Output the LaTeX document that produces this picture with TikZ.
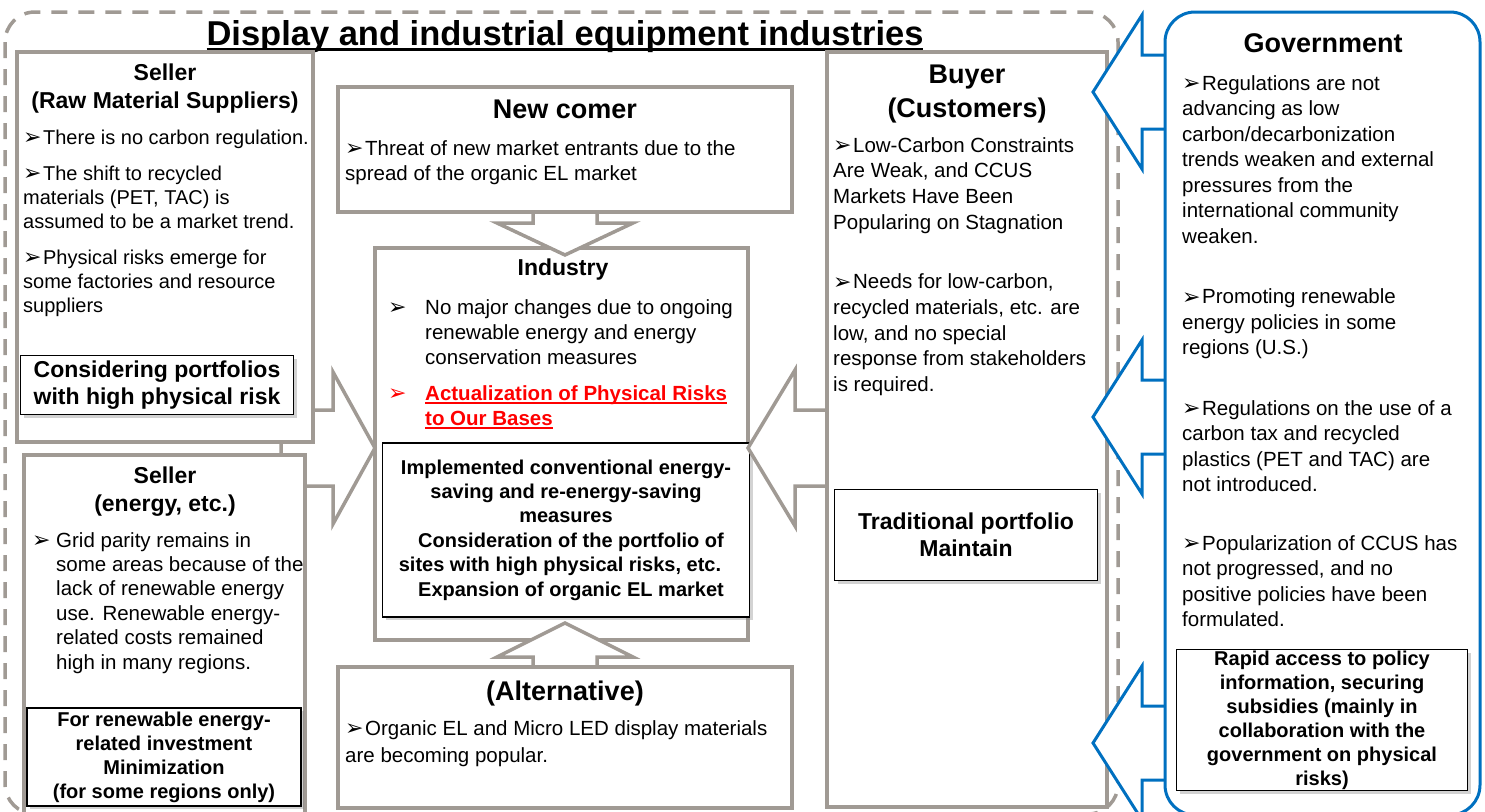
\documentclass[tikz,border=0pt]{standalone}
\usepackage{fontspec}
\setmainfont{Liberation Sans}
\newfontfamily\dejavu{DejaVu Sans}
\usetikzlibrary{calc,shadows}

\definecolor{boxgray}{RGB}{160,154,148}
\definecolor{govblue}{RGB}{0,112,192}
\definecolor{riskred}{RGB}{255,0,0}

\newcommand{\fs}[2]{\fontsize{#1}{#2}\selectfont}
\newcommand{\bul}{\raisebox{-0.5pt}{\dejavu\fontsize{22}{22}\selectfont ➢}\kern1.5pt}
% #1 rule thickness, #2 drop below baseline, #3 text
\newcommand{\ulined}[3]{\leavevmode\setbox0=\hbox{#3}\rlap{\vrule width\wd0 height\dimexpr#1-#2\relax depth#2}\box0}
% stacked lines, baseline at the first line
\newcommand{\lines}[2][l]{\begin{tabular}[t]{@{}#1@{}}#2\end{tabular}}

\begin{document}
\begin{tikzpicture}[x=1pt,y=-1pt,
  panel/.style={draw=boxgray, line width=3.5pt, fill=white},
  blockarr/.style={draw=boxgray, line width=3.5pt, fill=white, line join=miter},
  govarr/.style={draw=govblue, line width=3pt, fill=white, line join=miter},
  heading/.style={anchor=base, inner sep=0pt, font=\bfseries\fs{23}{28}},
  bigheading/.style={heading, font=\bfseries\fs{27}{34}},
  body/.style={anchor=base west, inner sep=0pt, font=\fs{20.5}{25}},
  keybox/.style={draw=black, line width=1.6pt, fill=white, align=center, inner sep=0pt,
    font=\bfseries\fs{20}{24.4}, drop shadow={shadow xshift=3pt, shadow yshift=-3pt, opacity=0.35}}]
  \useasboundingbox (0,0) rectangle (1485,811);

  % Outer dashed frame
  \draw[boxgray, line width=3.5pt, dash pattern=on 16pt off 11pt, rounded corners=30pt] (5,12) rectangle (1118,814);

  % Title
  \node[anchor=base, inner sep=0pt, font=\bfseries\fs{34.5}{40}] (title) at (565,45)
    {\ulined{2.5pt}{5.5pt}{Display and industrial equipment industries}};

  % Industry (centre)
  \draw[panel] (375,248) rectangle (748,640);
  \node[heading] (indhead) at (563,275) {Industry};
  \node[body] (indtext) at (388,314) {\lines{%
    \makebox[37pt][l]{\bul}No major changes due to ongoing\\
    \hspace*{37pt}renewable energy and energy\\
    \hspace*{37pt}conservation measures\\[11pt]
    \color{riskred}\bfseries\makebox[37pt][l]{\mdseries\bul}\ulined{1.6pt}{3.5pt}{Actualization of Physical Risks}\\
    \color{riskred}\bfseries\hspace*{37pt}\ulined{1.6pt}{3.5pt}{to Our Bases}}};
  \node[keybox, minimum width=367pt, minimum height=174pt] (indbox) at (566,530) {%
    Implemented conventional energy-\\
    saving and re-energy-saving\\
    measures\\
    \hspace*{10pt}Consideration of the portfolio of\\
    \hspace*{-12pt}sites with high physical risks, etc.\\
    \hspace*{10pt}Expansion of organic EL market};

  % Block arrows into Industry
  \coordinate (tipW) at (375,448);
  \coordinate (tipE) at (748,448);
  \coordinate (tipN) at (565,255);
  \coordinate (tipS) at (565,623);
  \draw[blockarr] (tipW) -- ++(-42,-76) -- ++(0,38) -- ++(-52,0) -- ++(0,76) -- ++(52,0) -- ++(0,38) -- cycle;
  \draw[blockarr] (tipE) -- ++(47,-78) -- ++(0,40) -- ++(60,0) -- ++(0,76) -- ++(-60,0) -- ++(0,40) -- cycle;
  \draw[blockarr] (tipN) -- ++(-68,-32) -- ++(36,0) -- ++(0,-20) -- ++(64,0) -- ++(0,20) -- ++(36,0) -- cycle;
  \draw[blockarr] (tipS) -- ++(-68,34) -- ++(36,0) -- ++(0,20) -- ++(64,0) -- ++(0,-20) -- ++(36,0) -- cycle;

  % Seller (raw material)
  \draw[panel] (17,52) rectangle (313,442);
  \node[heading] (s1head) at (165,80) {\lines[c]{Seller\\(Raw Material Suppliers)}};
  \node[body, font=\fs{20}{24}] (s1text) at (23,144) {\lines{%
    \bul There is no carbon regulation.\\[12pt]
    \bul The shift to recycled\\
    materials (PET, TAC) is\\
    assumed to be a market trend.\\[12pt]
    \bul Physical risks emerge for\\
    some factories and resource\\
    suppliers}};
  \node[keybox, font=\bfseries\fs{23}{27}, minimum width=273pt, minimum height=59pt] (s1port) at (157,385)
    {Considering portfolios\\with high physical risk};

  % Seller (energy)
  \draw[panel] (24,455) rectangle (305,815);
  \node[heading] (s2head) at (165,483) {\lines[c]{Seller\\(energy, etc.)}};
  \node[body, font=\fs{20.5}{24.4}] (s2text) at (32,547) {\lines{%
    \makebox[24pt][l]{\bul}Grid parity remains in\\
    \hspace*{24pt}some areas because of the\\
    \hspace*{24pt}lack of renewable energy\\
    \hspace*{24pt}use. Renewable energy-\\
    \hspace*{24pt}related costs remained\\
    \hspace*{24pt}high in many regions.}};
  \node[keybox, font=\bfseries\fs{20}{24}, minimum width=274pt, minimum height=98pt] (s2inv) at (164,757)
    {For renewable energy-\\related investment\\Minimization\\(for some regions only)};

  % New comer
  \draw[panel] (338,87) rectangle (792,212);
  \node[bigheading] (nchead) at (565,118) {New comer};
  \node[body] (nctext) at (345,155) {\lines{%
    \bul Threat of new market entrants due to the\\
    spread of the organic EL market}};

  % Alternative
  \draw[panel] (338,667) rectangle (792,808);
  \node[bigheading] (althead) at (565,700) {(Alternative)};
  \node[body, font=\fs{20.5}{27}] (alttext) at (345,735) {\lines{%
    \bul Organic EL and Micro LED display materials\\
    are becoming popular.}};

  % Buyer
  \draw[panel] (827,52) rectangle (1107,807);
  \node[bigheading] (buyhead) at (967,83) {\lines[c]{Buyer\\(Customers)}};
  \node[body, font=\fs{20.5}{25.7}] (buytext) at (833,152) {\lines{%
    \bul Low-Carbon Constraints\\
    Are Weak, and CCUS\\
    Markets Have Been\\
    Popularing on Stagnation\\[34pt]
    \bul Needs for low-carbon,\\
    recycled materials, etc. are\\
    low, and no special\\
    response from stakeholders\\
    is required.}};
  \node[keybox, font=\bfseries\fs{23}{27}, minimum width=263pt, minimum height=91pt] (buyport) at (966,535)
    {Traditional portfolio\\Maintain};

  % Government arrows
  \coordinate (tipG1) at (1093,92);
  \coordinate (tipG2) at (1093,417);
  \coordinate (tipG3) at (1093,743);
  \foreach \t in {tipG1,tipG2,tipG3}
    \draw[govarr] (\t) -- ++(49,-77) -- ++(0,40) -- ++(40,0) -- ++(0,74) -- ++(-40,0) -- ++(0,40) -- cycle;

  % Government
  \draw[draw=govblue, line width=3pt, fill=white, rounded corners=30pt] (1165,12) rectangle (1480,815);
  \node[bigheading] (govhead) at (1323,52) {Government};
  \node[body, font=\fs{20.5}{25.5}] (govtext) at (1182,90) {\lines{%
    \bul Regulations are not\\
    advancing as low\\
    carbon/decarbonization\\
    trends weaken and external\\
    pressures from the\\
    international community\\
    weaken.\\[35pt]
    \bul Promoting renewable\\
    energy policies in some\\
    regions (U.S.)\\[35pt]
    \bul Regulations on the use of a\\
    carbon tax and recycled\\
    plastics (PET and TAC) are\\
    not introduced.\\[33pt]
    \bul Popularization of CCUS has\\
    not progressed, and no\\
    positive policies have been\\
    formulated.}};
  \node[keybox, font=\bfseries\fs{20}{24}, minimum width=291pt, minimum height=141pt] (govbox) at (1322,720)
    {Rapid access to policy\\information, securing\\subsidies (mainly in\\collaboration with the\\government on physical\\risks)};
\end{tikzpicture}
\end{document}
